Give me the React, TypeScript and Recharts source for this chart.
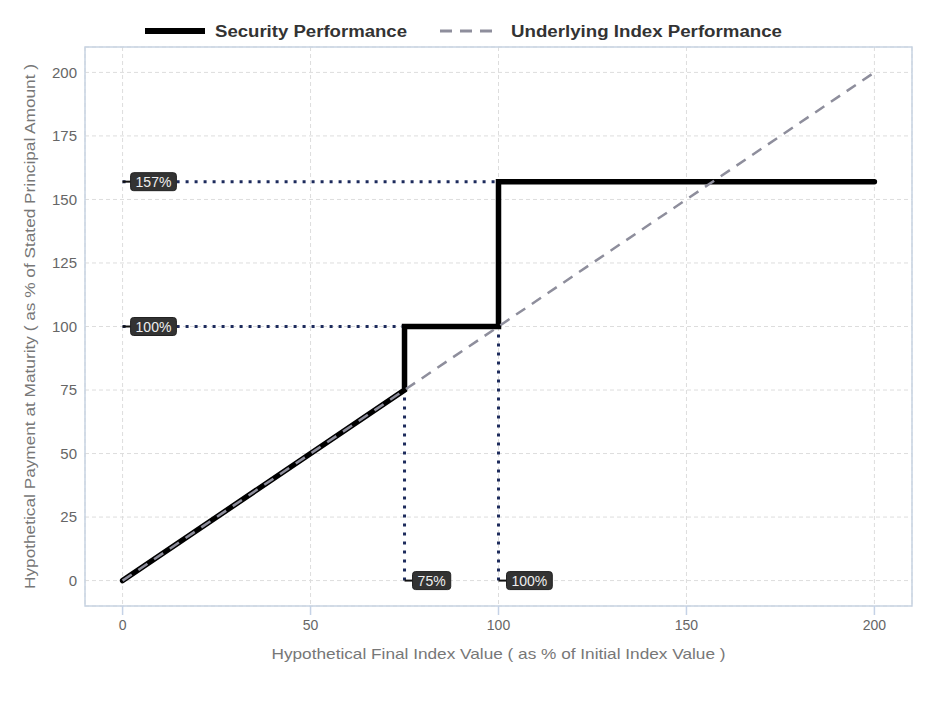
import {
  CartesianGrid,
  ComposedChart,
  Line,
  ReferenceArea,
  ReferenceDot,
  ReferenceLine,
  XAxis,
  YAxis,
} from "recharts";

// 증권 수익 구조
const securityX = [0, 75, 75, 100, 100, 200];
const securityY = [0, 75, 100, 100, 157, 157];

const indexX = [0, 200];
const indexY = [0, 200];

const xTicks = [0, 50, 100, 150, 200];
const yTicks = [0, 25, 50, 75, 100, 125, 150, 175, 200];

// 점선 가이드
const guideFromX = [0, 0, 75, 100];
const guideFromY = [157, 100, 0, 0];
const guideToX = [100, 75, 75, 100];
const guideToY = [157, 100, 100, 157];

// 라벨
const markerX = [0, 0, 75, 100];
const markerY = [157, 100, 0, 0];
const markerText = ["157%", "100%", "75%", "100%"];

const securityData = securityX.map((x, i) => ({ x, y: securityY[i] }));
const indexData = indexX.map((x, i) => ({ x, y: indexY[i] }));

const FONT = "'Liberation Sans', Arial, sans-serif";

const MarkerShape = (props: any) => {
  const { cx, cy, text } = props;
  const w = (text.length - 1) * 7.6 + 12 + 11;
  return (
    <g>
      <line x1={cx} y1={cy} x2={cx + 9} y2={cy} stroke="#111" strokeWidth={2} />
      <rect
        x={cx + 8}
        y={cy - 9}
        width={w}
        height={18}
        rx={3}
        fill="#333"
        stroke="#222"
      />
      <text
        x={cx + 8 + w / 2}
        y={cy + 5}
        textAnchor="middle"
        fill="#eee"
        fontSize={14}
        fontFamily={FONT}
      >
        {text}
      </text>
    </g>
  );
};

const LegendBar = () => (
  <svg
    width={938}
    height={45}
    style={{ position: "absolute", left: 0, top: 10 }}
  >
    <line x1={145} y1={21} x2={205} y2={21} stroke="#000" strokeWidth={6} />
    <text
      x={215}
      y={27}
      fontSize={16}
      fontWeight="bold"
      fill="#333"
      fontFamily={FONT}
      textLength={192}
      lengthAdjust="spacingAndGlyphs"
    >
      Security Performance
    </text>
    <line
      x1={440}
      y1={21}
      x2={498}
      y2={21}
      stroke="#8e8e9c"
      strokeWidth={3}
      strokeDasharray="12 8"
    />
    <text
      x={511}
      y={27}
      fontSize={16}
      fontWeight="bold"
      fill="#333"
      fontFamily={FONT}
      textLength={271}
      lengthAdjust="spacingAndGlyphs"
    >
      Underlying Index Performance
    </text>
  </svg>
);

const App = () => {
  return (
    <div style={{ position: "absolute", left: 0, top: 0, width: 938, height: 703 }}>
      <ComposedChart
        width={938}
        height={703}
        margin={{ top: 47, right: 26, bottom: 37, left: 0 }}
        style={{ fontFamily: FONT }}
      >
        <CartesianGrid stroke="#dddddd" strokeDasharray="4 3" />
        <XAxis
          dataKey="x"
          type="number"
          domain={[-10, 210]}
          ticks={xTicks}
          height={60}
          tickSize={9}
          tickMargin={5}
          axisLine={false}
          tickLine={{ stroke: "#c5d2e6", strokeWidth: 1.5 }}
          tick={{ fill: "#666", fontSize: 14 }}
          label={{
            content: (p: any) => (
              <text
                x={p.viewBox.x + p.viewBox.width / 2}
                y={659}
                textAnchor="middle"
                fill="#777"
                fontSize={15}
                fontFamily={FONT}
                textLength={454}
                lengthAdjust="spacingAndGlyphs"
              >
                Hypothetical Final Index Value ( as % of Initial Index Value )
              </text>
            ),
          }}
        />
        <YAxis
          dataKey="y"
          type="number"
          domain={[-10, 210]}
          ticks={yTicks}
          width={85}
          axisLine={false}
          tickLine={false}
          tickSize={0}
          tickMargin={8}
          tick={{ fill: "#666", fontSize: 15 }}
          label={{
            content: (p: any) => {
              const cy = p.viewBox.y + p.viewBox.height / 2;
              return (
                <text
                  x={35}
                  y={cy}
                  textAnchor="middle"
                  transform={`rotate(-90 35 ${cy})`}
                  fill="#777"
                  fontSize={15}
                  fontFamily={FONT}
                  textLength={525}
                  lengthAdjust="spacingAndGlyphs"
                >
                  Hypothetical Payment at Maturity ( as % of Stated Principal Amount )
                </text>
              );
            },
          }}
        />
        <ReferenceArea
          x1={-10}
          x2={210}
          y1={-10}
          y2={210}
          fill="none"
          stroke="#c8d3e2"
          strokeWidth={1.5}
          ifOverflow="visible"
        />
        {guideFromX.map((x1, i) => (
          <ReferenceLine
            key={`guide-${i}`}
            segment={[
              { x: x1, y: guideFromY[i] },
              { x: guideToX[i], y: guideToY[i] },
            ]}
            stroke="#1d2b5c"
            strokeWidth={3}
            strokeDasharray="3 6"
          />
        ))}
        <Line
          data={securityData}
          dataKey="y"
          type="linear"
          stroke="#000"
          strokeWidth={5.5}
          strokeLinecap="round"
          strokeLinejoin="miter"
          dot={false}
          activeDot={false}
          isAnimationActive={false}
        />
        <Line
          data={indexData}
          dataKey="y"
          type="linear"
          stroke="#8e8e9c"
          strokeWidth={2.5}
          strokeDasharray="11 8"
          dot={false}
          activeDot={false}
          isAnimationActive={false}
        />
        {markerX.map((x, i) => (
          <ReferenceDot
            key={`marker-${i}`}
            x={x}
            y={markerY[i]}
            r={0}
            shape={(p: any) => <MarkerShape {...p} text={markerText[i]} />}
          />
        ))}
      </ComposedChart>
      <LegendBar />
    </div>
  );
};

export default App;
